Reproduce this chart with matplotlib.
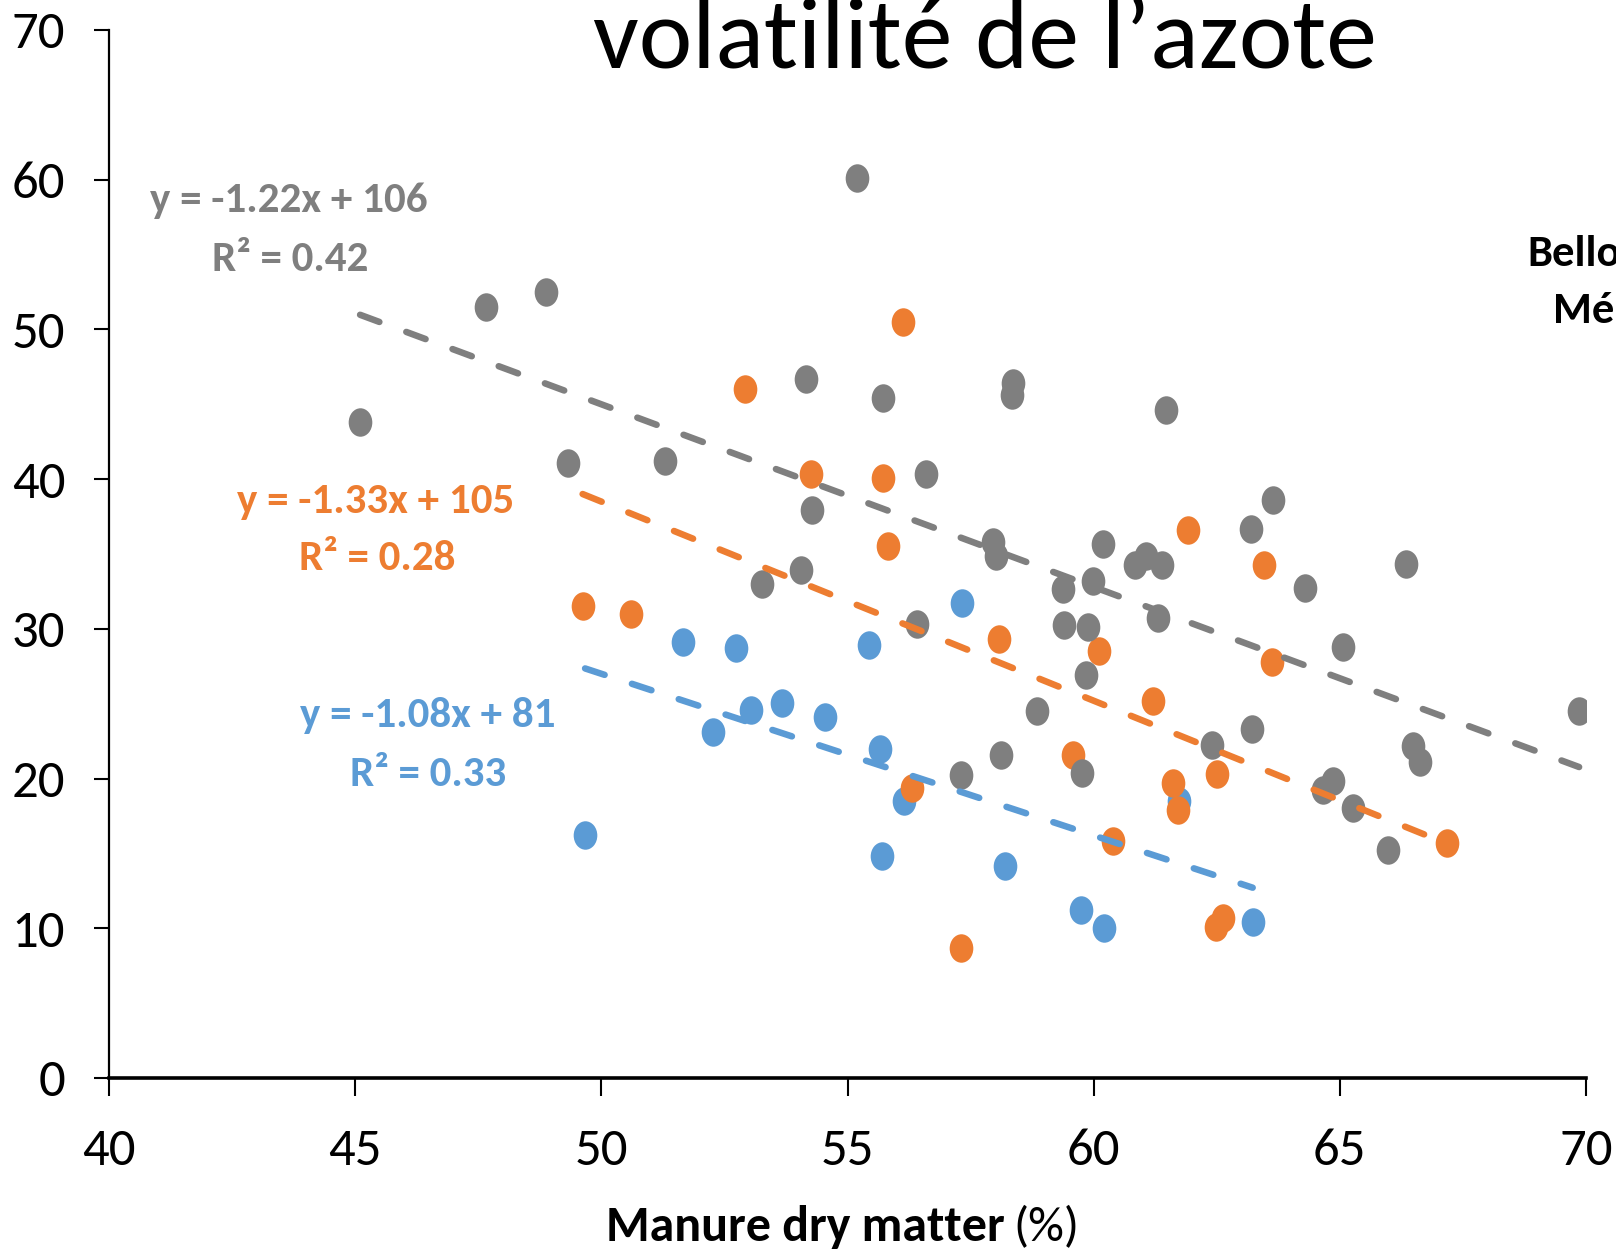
import matplotlib
matplotlib.use("Agg")
import matplotlib.pyplot as plt
from matplotlib.path import Path
from matplotlib.transforms import Affine2D
import numpy as np

# manure dry matter (%) vs N volatilisation, three groups
gray_x = [45.1, 47.66, 48.88, 49.33, 51.29, 55.2, 54.15, 55.72, 56.6, 54.28,
          54.05, 53.27, 56.42, 58.36, 58.34, 57.95, 58.01, 61.46, 60.18, 59.98,
          59.37, 59.4, 59.88, 60.84, 61.06, 61.39, 61.3, 59.84, 58.84, 57.3,
          58.11, 59.77, 63.19, 63.65, 64.3, 65.07, 66.35, 62.4, 63.21, 64.66,
          64.86, 65.27, 65.97, 66.48, 66.62, 69.86]
gray_y = [43.8, 51.5, 52.5, 41.1, 41.2, 60.1, 46.7, 45.4, 40.35, 37.95,
          33.95, 33.0, 30.3, 46.4, 45.6, 35.8, 34.85, 44.6, 35.65, 33.2,
          32.65, 30.25, 30.15, 34.25, 34.85, 34.25, 30.7, 26.95, 24.5, 20.25,
          21.55, 20.4, 36.65, 38.6, 32.7, 28.8, 34.3, 22.25, 23.3, 19.25,
          19.85, 18.05, 15.25, 22.2, 21.1, 24.5]

orange_x = [56.12, 52.92, 54.26, 55.72, 55.83, 49.62, 50.6, 61.92, 63.46,
            58.07, 60.1, 63.62, 61.2, 59.59, 56.32, 61.61, 61.71, 62.5,
            60.4, 67.18, 57.31, 62.49, 62.63]
orange_y = [50.5, 46.0, 40.35, 40.1, 35.55, 31.55, 31.0, 36.6, 34.25,
            29.3, 28.5, 27.8, 25.15, 21.6, 19.35, 19.7, 17.9, 20.3,
            15.8, 15.7, 8.7, 10.1, 10.7]

blue_x = [57.33, 51.65, 52.74, 55.43, 53.04, 53.66, 54.54, 52.26, 55.66,
          56.15, 49.67, 55.71, 58.19, 61.74, 59.74, 60.2, 63.23]
blue_y = [31.7, 29.1, 28.7, 28.9, 24.6, 25.05, 24.1, 23.1, 21.95,
          18.5, 16.2, 14.8, 14.15, 18.5, 11.2, 10.0, 10.45]

# fitted trend lines (slope, intercept) as printed on the chart
gray_fit = (-1.22, 106.0)
orange_fit = (-1.33, 105.0)
blue_fit = (-1.08, 81.0)

c_gray = "#7F7F7F"
c_orange = "#ED7D31"
c_blue = "#5B9BD5"

# calibri-like face, with fallbacks
narrow = ["Carlito", "Roboto Condensed", "Sofia Sans Condensed", "DejaVu Sans"]
light = ["Carlito", "Lato", "DejaVu Sans"]

fig = plt.figure(figsize=(16.16, 12.49), dpi=100)
ax = fig.add_axes([109 / 1616, 1 - 1078 / 1249, (1586 - 109) / 1616, (1078 - 30) / 1249])

# slightly tall ellipse, like the stretched excel markers
ell = Path.unit_circle().transformed(Affine2D().scale(0.83, 1.0))

for xs, ys, c in [(blue_x, blue_y, c_blue), (orange_x, orange_y, c_orange), (gray_x, gray_y, c_gray)]:
    ax.plot(xs, ys, linestyle="none", marker=ell, markersize=20.5,
            markerfacecolor=c, markeredgewidth=0, zorder=3)

for xs, fit, c in [(blue_x, blue_fit, c_blue), (orange_x, orange_fit, c_orange), (gray_x, gray_fit, c_gray)]:
    xl = np.array([min(xs), max(xs)])
    ax.plot(xl, fit[0] * xl + fit[1], color=c, lw=4.7, dashes=(3.15, 4.4),
            dash_capstyle="round", zorder=4)

ax.set_xlim(40, 70)
ax.set_ylim(0, 70)
ax.set_xticks(range(40, 71, 5))
ax.set_yticks(range(0, 71, 10))
for s in ["top", "right"]:
    ax.spines[s].set_visible(False)
ax.spines["left"].set_linewidth(1.6)
ax.spines["bottom"].set_linewidth(2.6)
ax.tick_params(axis="y", length=10.5, width=1.5, pad=21, labelsize=38)
ax.tick_params(axis="x", length=13, width=1.5, pad=23, labelsize=38)
for lab in ax.get_xticklabels() + ax.get_yticklabels():
    lab.set_family(narrow)

# regression labels
eq_kw = dict(fontsize=31, fontweight="bold", family=narrow, va="center", ha="left")
ax.text(40.84, 58.6, "y = -1.22x + 106", color=c_gray, **eq_kw)
ax.text(42.09, 54.7, "R² = 0.42", color=c_gray, **eq_kw)
ax.text(42.6, 38.5, "y = -1.33x + 105", color=c_orange, **eq_kw)
ax.text(43.85, 34.7, "R² = 0.28", color=c_orange, **eq_kw)
ax.text(43.87, 24.2, "y = -1.08x + 81", color=c_blue, **eq_kw)
ax.text(44.9, 20.3, "R² = 0.33", color=c_blue, **eq_kw)

# x label: bold part + plain unit
fig.text(1005 / 1616, 1 - 1241 / 1249, "Manure dry matter", fontsize=36, fontweight="bold",
         family=narrow, ha="right", va="baseline")
fig.text(1013 / 1616, 1 - 1241 / 1249, "(%)", fontsize=36, family=narrow, ha="left", va="baseline")

# slide title and side note, both cut by the frame
fig.text(985 / 1616, 1 - 68 / 1249, "volatilité de l’azote", fontsize=73,
         family=light, ha="center", va="baseline")
fig.text(1527 / 1616, 1 - 254 / 1249, "Bello", fontsize=32, fontweight="bold", family=narrow,
         ha="left", va="center")
fig.text(1553 / 1616, 1 - 311 / 1249, "Mé", fontsize=32, fontweight="bold", family=narrow,
         ha="left", va="center")

fig.savefig("out.png", dpi=100)
